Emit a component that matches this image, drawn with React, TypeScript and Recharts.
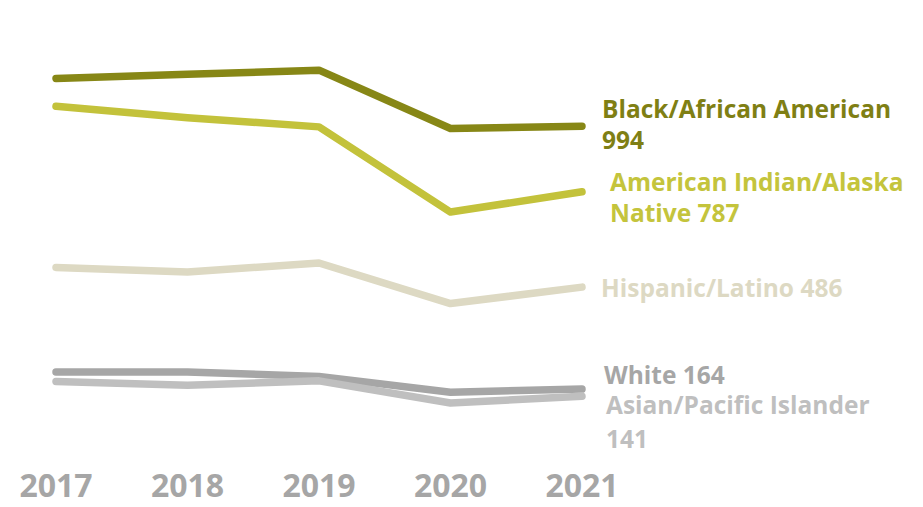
import { LineChart, Line, XAxis, YAxis, LabelList } from 'recharts';

const years = ['2017', '2018', '2019', '2020', '2021'];

const black = [1145, 1158, 1171, 987, 994];
const aian = [1057, 1021, 992, 723, 787];
const hispanic = [548, 534, 562, 434, 486];
const white = [218, 218, 204, 154, 164];
const asian = [188, 176, 190, 120, 141];

const data = years.map((year, i) => ({
  year,
  black: black[i],
  aian: aian[i],
  hispanic: hispanic[i],
  white: white[i],
  asian: asian[i]
}));

const FONT = '"Open Sans", "Noto Sans", sans-serif';

// label text lines per series, last value appended from data
const series = [
  { key: 'black', color: '#878716', textColor: '#7f7f14', lines: ['Black/African American', ''], dx: 20, dy: [-18, 13] },
  { key: 'aian', color: '#c3c23b', textColor: '#c4c43c', lines: ['American Indian/Alaska', 'Native '], dx: 28, dy: [-10, 21] },
  { key: 'hispanic', color: '#ddd9c3', textColor: '#ddd9c3', lines: ['Hispanic/Latino '], dx: 19, dy: [0] },
  { key: 'white', color: '#a6a6a6', textColor: '#a6a6a6', lines: ['White '], dx: 22, dy: [-15] },
  { key: 'asian', color: '#bfbfbf', textColor: '#bfbfbf', lines: ['Asian/Pacific Islander', ''], dx: 24, dy: [8, 42] }
];

function makeLabel(s: (typeof series)[number]) {
  return (props: any) => {
    const { x, y, index, value } = props;
    if (index !== years.length - 1) return null;
    const last = s.lines.length - 1;
    return (
      <g>
        {s.lines.map((line, i) => (
          <text
            key={i}
            x={x + s.dx}
            y={y + s.dy[i]}
            fill={s.textColor}
            fontFamily={FONT}
            fontWeight={700}
            fontSize={24.5}
            dominantBaseline="central"
          >
            {i === last ? line + value : line}
          </text>
        ))}
      </g>
    );
  };
}

function YearTick(props: any) {
  const { x, y, payload } = props;
  return (
    <text
      x={x}
      y={y + 48}
      textAnchor="middle"
      fill="#a6a6a6"
      fontFamily={FONT}
      fontWeight={700}
      fontSize={32}
    >
      {payload.value}
    </text>
  );
}

export default function App() {
  return (
    <div style={{ position: 'absolute', left: 0, top: 0, width: 923, height: 507, background: '#fff' }}>
      <LineChart width={923} height={507} data={data} margin={{ top: 61, right: 341, bottom: 0, left: 56 }}>
        <XAxis dataKey="year" axisLine={false} tickLine={false} height={66} tick={<YearTick />} interval={0} />
        <YAxis hide domain={[0, 1200]} />
        {series.map((s) => (
          <Line
            key={s.key}
            dataKey={s.key}
            stroke={s.color}
            strokeWidth={7.5}
            strokeLinecap="round"
            strokeLinejoin="round"
            dot={false}
            isAnimationActive={false}
          >
            <LabelList dataKey={s.key} content={makeLabel(s)} />
          </Line>
        ))}
      </LineChart>
    </div>
  );
}
